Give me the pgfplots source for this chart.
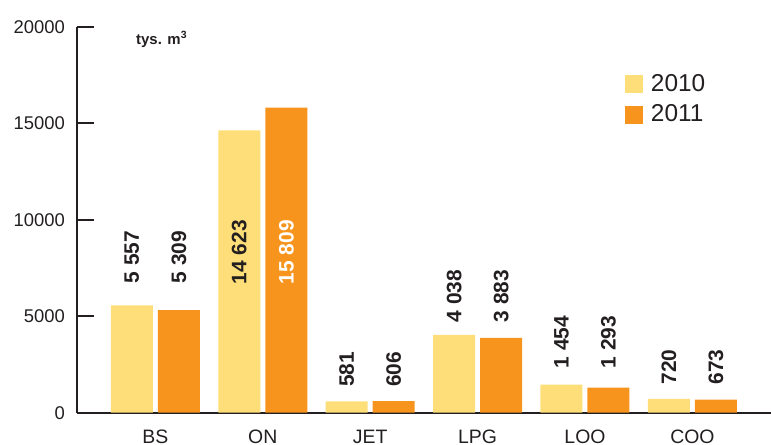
\documentclass[border=0pt]{standalone}
\usepackage{fontspec}
\setmainfont{Liberation Sans}
\usepackage{pgfplots}
\pgfplotsset{compat=1.18}
\usepackage{pgfplotstable}

\definecolor{barlight}{HTML}{FDDE78}
\definecolor{barorange}{HTML}{F7941D}
\definecolor{ink}{HTML}{231F20}

% sales in thousand m3; lab = height at which the value label starts
\pgfplotstableread{
x y lab
0 5557 6700
1 14623 6650
2 581 1330
3 4038 4670
4 1454 2290
5 720 1460
}\yearA
\pgfplotstableread{
x y lab
0 5309 6700
1 15809 6650
2 606 1330
3 3883 4670
4 1293 2290
5 673 1460
}\yearB

\pgfplotsset{
  % value labels: an invisible bar up to "lab", showing the value "y"
  valuelabel/.style={
    draw=none, fill=none, forget plot,
    point meta=explicit,
    nodes near coords={\pgfmathprintnumber[1000 sep={\ }]{\pgfplotspointmeta}},
    nodes near coords style={rotate=90, anchor=west, inner sep=0pt,
      text=ink, font=\bfseries\fontsize{21}{25}\selectfont},
  },
}

\begin{document}
\begin{tikzpicture}
\begin{axis}[
  scale only axis,
  width=694bp, height=386bp,
  xmin=-0.73, xmax=5.732,
  ymin=0, ymax=20000,
  clip=false,
  axis x line=bottom, axis y line=left,
  axis line style={-, draw=ink, line width=1.8bp},
  ytick={0,5000,10000,15000,20000},
  scaled y ticks=false,
  ytick pos=left,
  tick align=inside,
  major tick length=17bp,
  ytick style={draw=ink, line width=1.8bp},
  xtick={0,1,2,3,4,5},
  xticklabels={BS,ON,JET,LPG,LOO,COO},
  xtick style={draw=none},
  xticklabel style={font=\fontsize{19.5}{23}\selectfont, text=ink,
    inner sep=0pt, anchor=north, yshift=0bp},
  yticklabel style={font=\fontsize{18.5}{22}\selectfont, text=ink,
    inner sep=0pt, anchor=east, xshift=-12bp},
  /pgf/number format/assume math mode=true,
  /pgf/number format/1000 sep={},
  ybar, bar width=42bp,
  legend style={draw=none, fill=none, inner sep=0pt, outer sep=0pt,
    at={(rel axis cs:0.7896,0.8775)}, anchor=north west,
    font=\fontsize{24.5}{28}\selectfont, text=ink,
    nodes={inner sep=0pt}, row sep=11.5bp,
    /tikz/every odd column/.append style={column sep=8bp}},
  legend cell align=left,
  legend image code/.code={\fill[#1] (0bp,-10bp) rectangle (18bp,8bp);},
]
% bars
\addplot[fill=barlight, draw=none, bar shift=-23.5bp, forget plot]
  table[x=x, y=y] {\yearA};
\addplot[fill=barorange, draw=none, bar shift=23.5bp, forget plot]
  table[x=x, y=y] {\yearB};
% value labels
\addplot[valuelabel, bar shift=-23.5bp]
  table[x=x, y=lab, meta=y] {\yearA};
\addplot[valuelabel, bar shift=23.5bp, skip coords between index={1}{2}]
  table[x=x, y=lab, meta=y] {\yearB};
\addplot[valuelabel, bar shift=23.5bp, nodes near coords style={text=white},
  skip coords between index={0}{1}, skip coords between index={2}{6}]
  table[x=x, y=lab, meta=y] {\yearB};

\addlegendimage{fill=barlight, draw=none}
\addlegendentry{2010}
\addlegendimage{fill=barorange, draw=none}
\addlegendentry{2011}

\node[anchor=base west, inner sep=0pt, text=ink,
  font=\bfseries\fontsize{15}{17}\selectfont]
  at (rel axis cs:0.085,0.955) {tys. m\textsuperscript{3}};

\coordinate (frameSW) at (rel axis cs:0,0);
\coordinate (frameNE) at (rel axis cs:1,1);
\end{axis}
\pgfresetboundingbox
\path[use as bounding box] ([xshift=-77bp,yshift=-32.3bp]frameSW)
  rectangle ([yshift=26.7bp]frameNE);
\end{tikzpicture}
\end{document}
